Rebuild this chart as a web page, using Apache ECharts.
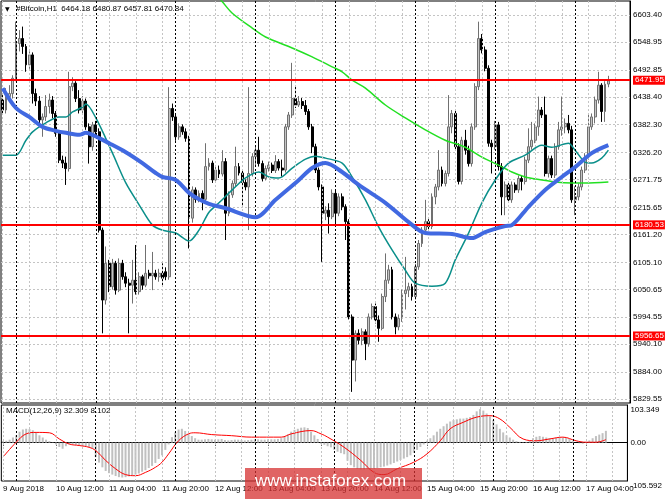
<!DOCTYPE html>
<html><head><meta charset="utf-8">
<script src="https://cdn.jsdelivr.net/npm/echarts@6/dist/echarts.min.js"></script>
<style>html,body{margin:0;padding:0;background:#fff}#c{width:665px;height:499px}</style>
</head><body><div id="c"></div>
<script>
const symbolName = '#Bitcoin,H1';
const macdName = 'MACD(12,26,9)';
const watermark = 'www.instaforex.com';
const tickLabels = ['9 Aug 2018','10 Aug 12:00','11 Aug 04:00','11 Aug 20:00','12 Aug 12:00','13 Aug 04:00','13 Aug 20:00','14 Aug 12:00','15 Aug 04:00','15 Aug 20:00','16 Aug 12:00','17 Aug 04:00'];
const priceTicks = [6603.40,6548.95,6492.85,6438.40,6382.30,6326.20,6271.75,6215.65,6161.20,6105.10,6050.65,5994.55,5940.10,5884.00,5829.55];
const priceLevels = [6471.95,6180.53,5956.65];
const macdTicks = [103.349,0,-105.592];
// [open, close, low, high]
const candles = [
[6432,6412,6402,6442],[6412,6439,6405,6456],[6439,6445,6428,6462],[6445,6476,6435,6482],[6476,6546,6470,6590],
[6546,6556,6530,6573],[6556,6540,6525,6580],[6540,6503,6489,6545],[6503,6523,6495,6530],[6523,6445,6425,6528],
[6445,6430,6420,6455],[6430,6392,6380,6440],[6392,6398,6358,6405],[6398,6419,6390,6442],[6419,6432,6405,6445],
[6432,6405,6395,6440],[6405,6365,6358,6410],[6365,6311,6305,6370],[6311,6305,6295,6320],[6305,6294,6261,6318],
[6294,6459,6288,6489],[6459,6466,6450,6478],[6466,6435,6428,6470],[6435,6412,6405,6452],[6412,6430,6402,6440],
[6430,6378,6372,6435],[6378,6338,6304,6385],[6338,6382,6330,6388],[6382,6368,6360,6390],[6368,6170,6165,6375],
[6170,6029,5962,6175],[6029,6103,6020,6137],[6103,6056,6045,6110],[6056,6103,6050,6112],[6103,6049,6040,6108],
[6049,6103,6045,6113],[6103,6076,6070,6110],[6076,6063,6055,6085],[6063,6059,5962,6072],[6059,6069,6022,6110],
[6069,6046,6040,6140],[6046,6076,6040,6085],[6076,6059,6050,6080],[6059,6083,6055,6140],[6083,6078,6072,6090],
[6078,6083,6049,6126],[6083,6076,6070,6090],[6076,6083,6066,6092],[6083,6073,6059,6103],[6086,6076,6069,6095],
[6076,6415,6070,6458],[6415,6398,6390,6425],[6398,6358,6350,6405],[6358,6378,6352,6385],[6378,6368,6362,6383],
[6368,6355,6348,6375],[6355,6194,6133,6360],[6194,6251,6185,6258],[6251,6232,6225,6256],[6232,6244,6226,6250],
[6244,6232,6210,6250],[6232,6298,6225,6345],[6298,6305,6290,6315],[6305,6271,6265,6310],[6271,6291,6266,6298],
[6291,6283,6275,6300],[6283,6308,6278,6331],[6308,6204,6150,6315],[6204,6241,6198,6248],[6241,6264,6235,6270],
[6264,6298,6258,6338],[6298,6285,6280,6305],[6285,6266,6217,6290],[6266,6257,6250,6272],[6257,6284,6170,6458],
[6284,6318,6278,6325],[6318,6331,6300,6338],[6331,6304,6298,6358],[6304,6274,6268,6310],[6274,6294,6270,6300],
[6294,6301,6288,6308],[6301,6290,6285,6306],[6290,6308,6285,6321],[6308,6295,6290,6313],[6295,6291,6278,6312],
[6291,6378,6286,6384],[6378,6402,6372,6408],[6402,6435,6396,6507],[6435,6422,6416,6460],[6422,6429,6418,6440],
[6429,6421,6414,6436],[6421,6409,6402,6432],[6409,6378,6372,6414],[6378,6338,6325,6384],[6338,6291,6285,6344],
[6291,6257,6250,6296],[6257,6204,6106,6262],[6204,6210,6190,6218],[6210,6197,6163,6224],[6197,6244,6192,6252],
[6244,6204,6180,6252],[6204,6237,6198,6244],[6237,6217,6210,6244],[6217,6187,6150,6222],[6187,5995,5990,6192],
[5995,5908,5844,6000],[5908,5962,5865,5968],[5962,5948,5940,5970],[5948,5965,5938,5972],[5965,5941,5908,5970],
[5941,5995,5935,6002],[5995,6016,5990,6022],[6016,5989,5982,6022],[5989,5972,5945,5998],[5972,6036,5968,6042],
[6036,6069,6025,6123],[6069,6090,6062,6100],[6090,5995,5990,6096],[5995,5975,5960,6002],[5975,5992,5968,6000],
[5992,6042,5985,6050],[6042,6049,6010,6116],[6049,6056,6035,6064],[6056,6036,6028,6062],[6036,6096,6030,6102],
[6096,6143,6090,6150],[6143,6170,6136,6176],[6170,6187,6160,6231],[6187,6177,6170,6192],[6177,6237,6172,6244],
[6237,6257,6222,6263],[6257,6291,6250,6331],[6291,6264,6258,6298],[6264,6284,6258,6290],[6284,6378,6278,6442],
[6378,6405,6365,6412],[6405,6338,6330,6412],[6338,6268,6262,6345],[6268,6351,6262,6358],[6351,6331,6322,6372],
[6331,6304,6298,6340],[6304,6378,6298,6385],[6378,6459,6372,6466],[6459,6556,6452,6590],[6556,6533,6526,6565],
[6533,6496,6490,6540],[6496,6345,6338,6502],[6345,6338,6284,6352],[6338,6382,6332,6390],[6382,6298,6290,6388],
[6298,6237,6200,6305],[6237,6261,6200,6268],[6261,6231,6225,6268],[6231,6261,6225,6268],[6261,6251,6245,6266],
[6251,6274,6245,6280],[6274,6268,6250,6280],[6268,6311,6262,6318],[6311,6338,6305,6375],[6338,6351,6332,6388],
[6351,6378,6345,6385],[6378,6412,6360,6439],[6412,6402,6396,6418],[6402,6284,6278,6439],[6284,6314,6276,6320],
[6314,6281,6275,6320],[6281,6338,6275,6345],[6338,6372,6332,6388],[6372,6378,6360,6439],[6378,6385,6365,6395],
[6385,6372,6365,6402],[6372,6231,6225,6380],[6231,6237,6200,6258],[6237,6257,6230,6264],[6257,6291,6250,6298],
[6291,6318,6285,6325],[6318,6378,6312,6405],[6378,6398,6372,6405],[6398,6432,6385,6439],[6432,6462,6425,6489],
[6462,6409,6388,6466],[6409,6464,6388,6470],[6464.18,6470.84,6457.81,6480.87]
];
// moving averages, read as [bar index, price]
const maBlue = [[0,6456],[4,6416],[8,6398],[12,6378],[16,6370],[19,6366],[23,6362],[25,6366],[27,6362],[32,6345],[37,6327],[42,6305],[46,6285],[48,6277],[52,6271],[56,6245],[59,6232],[62,6223],[67,6214],[76,6196],[82,6231],[89,6271],[93,6295],[97,6305],[102,6287],[107,6261],[115,6225],[122,6186],[127,6164],[135,6162],[141,6154],[145,6166],[151,6178],[153,6180],[158,6217],[163,6251],[168,6277],[172,6297],[177,6325],[182,6341]];
const maTeal = [[0,6321],[4,6321],[7,6351],[9,6368],[13,6386],[17,6398],[19,6398],[21,6408],[24,6418],[25,6424],[28,6396],[33,6325],[37,6265],[41,6221],[45,6180],[48,6170],[52,6164],[56,6148],[59,6170],[62,6206],[65,6225],[69,6251],[73,6275],[77,6287],[80,6277],[83,6275],[87,6295],[91,6313],[94,6319],[97,6315],[102,6305],[105,6277],[109,6231],[113,6176],[117,6130],[121,6089],[124,6063],[129,6057],[133,6063],[136,6110],[140,6164],[144,6225],[148,6271],[152,6305],[157,6321],[162,6341],[165,6337],[170,6345],[172,6331],[175,6307],[177,6305],[180,6315],[182,6331]];
const maGreen = [[64,6645],[66,6630],[69,6607],[75,6577],[79,6559],[87,6537],[93,6519],[99,6499],[102,6489],[105,6472],[109,6456],[115,6422],[121,6396],[127,6372],[133,6351],[139,6337],[144,6317],[149,6301],[153,6287],[157,6277],[160,6273],[166,6267],[171,6265],[175,6265],[182,6267]];
const macdHist = [4,5,8,14,20,30,36,38,37,34,
28,20,14,8,4,1,-5,-12,-17,-10,
-5,-4,-6,-8,-9,-10,-12,-15,-40,-55,
-68,-78,-84,-88,-92,-95,-96,-95,-93,-90,
-88,-85,-80,-76,-70,-64,-56,-45,-35,-20,
-5,15,28,36,38,32,24,18,12,8,
8,9,10,9,8,9,10,7,6,7,
8,8,7,6,7,8,9,9,8,8,
9,9,9,10,12,16,22,30,35,38,
41,42,40,30,20,10,-3,-6,-10,-13,
-20,-25,-29,-32,-50,-62,-68,-72,-74,-74,
-73,-72,-71,-70,-68,-66,-63,-60,-56,-52,
-48,-44,-40,-35,-28,-20,-12,-5,5,12,
20,30,38,45,52,58,62,64,66,66,
68,70,76,86,92,88,80,72,62,50,
38,28,20,14,8,4,2,1,2,6,
12,16,18,16,14,12,12,13,14,14,
13,10,4,0,-2,-3,2,6,12,18,
22,26,32.309];
const macdSignal = [[0,-40],[4,1],[7,24],[10,28],[14,27],[17,10],[20,-4],[23,-8],[26,-13],[28,-22],[31,-49],[34,-72],[37,-88],[40,-91],[43,-82],[46,-68],[48,-54],[50,-31],[53,5],[56,24],[58,27],[63,22],[69,19],[75,15],[84,15],[87,24],[93,33],[96,24],[98,15],[103,-13],[108,-49],[112,-82],[115,-88],[119,-72],[124,-54],[128,-31],[132,5],[135,38],[139,56],[143,70],[147,74],[150,65],[153,42],[157,10],[161,5],[165,10],[169,15],[173,5],[176,1],[179,1],[182,8.102]];

const SLOTS = 189;
const months = ['Jan','Feb','Mar','Apr','May','Jun','Jul','Aug','Sep','Oct','Nov','Dec'];
const start = Date.UTC(2018,7,9,20);
const categories = [], dayIdx = [], gridIdx = [];
for (let i = 0; i < SLOTS; i++) {
  const d = new Date(start + i*3600000);
  const h = d.getUTCHours();
  categories.push(d.getUTCDate()+' '+months[d.getUTCMonth()]+' '+(h<10?'0':'')+h+':00');
  if (h === 0) dayIdx.push(i);
  if (i % 8 === 0) gridIdx.push(i);
}
const last = candles[candles.length-1];
const titleText = symbolName + '  ' + [last[0], last[3], last[2], last[1]].map(v=>v.toFixed(2)).join(' ');
const macdText = macdName + ' ' + macdHist[macdHist.length-1].toFixed(3) + ' ' + macdSignal[macdSignal.length-1][1].toFixed(3);

const FONT = 'Liberation Sans';
const vLines = [
  ...gridIdx.map(i => ({xAxis: i, lineStyle: {color: '#c4c4c4', type: [2,2], width: 1}})),
  ...dayIdx.map(i => ({xAxis: i, lineStyle: {color: '#000', type: [2,2], width: 1}}))
];
function helper(idx) {
  return {type: 'line', xAxisIndex: idx, yAxisIndex: idx, data: [], z: 1, silent: true,
    markLine: {symbol: 'none', silent: true, animation: false, label: {show: false}, data: vLines}};
}
const chart = echarts.init(document.getElementById('c'));
chart.setOption({
  animation: false,
  backgroundColor: '#fff',
  grid: [
    {left: 1, right: 35, top: 1, height: 402, show: true, borderColor: '#000', borderWidth: 1, backgroundColor: 'transparent'},
    {left: 1, right: 35, top: 405, height: 76, show: true, borderColor: '#000', borderWidth: 1, backgroundColor: 'transparent'}
  ],
  xAxis: [
    {type: 'category', gridIndex: 0, data: categories, boundaryGap: true,
     axisLine: {show: false}, axisTick: {show: false}, axisLabel: {show: false}, splitLine: {show: false}},
    {type: 'category', gridIndex: 1, data: categories, boundaryGap: true,
     axisLine: {show: true, lineStyle: {color: '#000'}},
     axisTick: {show: true, alignWithLabel: true, interval: 15, length: 3, lineStyle: {color: '#000'}},
     axisLabel: {show: true, interval: 15, align: 'left', margin: 4, fontFamily: FONT, fontSize: 8, color: '#000',
       formatter: (v, i) => tickLabels[i/16] || ''},
     splitLine: {show: false}}
  ],
  yAxis: [
    {type: 'value', gridIndex: 0, position: 'right', min: 5821.6, max: 6631.6, scale: true,
     axisLine: {show: true, lineStyle: {color: '#000'}},
     axisTick: {show: false, customValues: priceTicks},
     axisLabel: {customValues: priceTicks, margin: 3, fontFamily: FONT, fontSize: 8, color: '#000', formatter: v => v.toFixed(2)},
     splitLine: {show: true, lineStyle: {color: '#c4c4c4', type: [2,2]}}},
    {type: 'value', gridIndex: 1, position: 'right', min: macdTicks[2], max: macdTicks[0],
     axisLine: {show: true, lineStyle: {color: '#000'}},
     axisTick: {show: false, customValues: [0]},
     axisLabel: {customValues: macdTicks, margin: 3, fontFamily: FONT, fontSize: 8, color: '#000',
       formatter: v => v === 0 ? '0.00' : '{e|' + (v > 0 ? macdTicks[0] : macdTicks[2]) + '}',
       rich: {e: {padding: [10,0,0,0], fontFamily: FONT, fontSize: 8, color: '#000'}}},
     splitLine: {show: true, lineStyle: {color: '#c4c4c4', type: [2,2]}}}
  ],
  series: [
    helper(0), helper(1),
    {type: 'candlestick', xAxisIndex: 0, yAxisIndex: 0, data: candles, barWidth: 2.4, z: 3,
     itemStyle: {color: '#c4c4c4', color0: '#000', borderColor: '#707070', borderColor0: '#000', borderWidth: 1},
     markLine: {symbol: 'none', silent: true, animation: false,
       lineStyle: {color: '#ff0000', width: 2, type: 'solid'},
       label: {show: true, position: 'end', distance: 3, formatter: p => p.value.toFixed(2),
         backgroundColor: '#ff0000', color: '#fff', fontFamily: FONT, fontSize: 8, padding: [1,1,0,2]},
       data: priceLevels.map(v => ({yAxis: v}))}},
    {type: 'line', xAxisIndex: 0, yAxisIndex: 0, data: maGreen, smooth: 0.3, showSymbol: false, z: 4,
     lineStyle: {color: '#22e022', width: 1.5}},
    {type: 'line', xAxisIndex: 0, yAxisIndex: 0, data: maTeal, smooth: 0.3, showSymbol: false, z: 4,
     lineStyle: {color: '#0a8f8a', width: 1.5}},
    {type: 'line', xAxisIndex: 0, yAxisIndex: 0, data: maBlue, smooth: 0.3, showSymbol: false, z: 5,
     lineStyle: {color: '#4169e1', width: 4}},
    {type: 'bar', xAxisIndex: 1, yAxisIndex: 1, data: macdHist, barWidth: 2, z: 3,
     itemStyle: {color: '#c0c0c0'}},
    {type: 'line', xAxisIndex: 1, yAxisIndex: 1, data: macdSignal, smooth: 0.4, showSymbol: false, z: 4,
     lineStyle: {color: '#ff0000', width: 1}}
  ],
  graphic: [
    {type: 'text', left: 5, top: 6, z: 10, style: {text: '▼', fontSize: 6, fill: '#000', fontFamily: 'DejaVu Sans'}},
    {type: 'text', left: 16, top: 5, z: 10, style: {text: titleText, fontSize: 8, fill: '#000', fontFamily: FONT}},
    {type: 'text', left: 6, top: 407, z: 10, style: {text: macdText, fontSize: 8, fill: '#000', fontFamily: FONT}},
    {type: 'rect', left: 245, top: 468, z: 20, shape: {width: 177, height: 31}, style: {fill: 'rgba(214,48,48,0.75)'}},
    {type: 'text', left: 255, top: 473, z: 21, style: {text: watermark, fontSize: 17, fill: '#fff', fontFamily: FONT}}
  ]
});
</script></body></html>
